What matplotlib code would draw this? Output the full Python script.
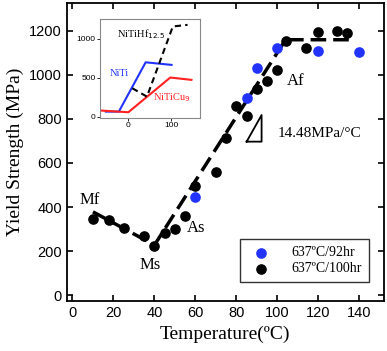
import matplotlib
matplotlib.use("Agg")
import matplotlib.pyplot as plt

# main data
black_T = [10, 18, 25, 35, 40, 45, 50, 55, 60, 70, 75, 80, 85, 90, 95, 100, 104, 114, 120, 129, 134]
black_Y = [345, 340, 305, 268, 223, 282, 300, 360, 495, 557, 713, 860, 813, 938, 973, 1023, 1152, 1121, 1194, 1201, 1192]
blue_T = [60, 85, 90, 100, 120, 140]
blue_Y = [445, 897, 1030, 1121, 1110, 1103]

# dashed guide line (Mf -> Ms -> Af -> plateau)
fit_T = [10, 40, 104, 135]
fit_Y = [378, 227, 1160, 1160]

# inset data
niti_T = [-51, -21, 41, 101]
niti_Y = [68, 68, 700, 667]
nitic_T = [-61, 1, 98, 147]
nitic_Y = [81, 60, 505, 475]
hf_T = [10, 44, 104, 138]
hf_Y = [368, 260, 1160, 1180]

serif = ["Liberation Serif", "DejaVu Serif"]
sans = ["Liberation Sans", "DejaVu Sans"]

fig = plt.figure(figsize=(3.87, 3.51), dpi=100)
ax = fig.add_axes([0.173, 0.1425, 0.819, 0.849])

ax.plot(fit_T, fit_Y, color="black", lw=2.5, ls=(0, (4.5, 2)), zorder=2)
ax.scatter(blue_T, blue_Y, s=44, color="#2233ff", zorder=3, label="637\u00baC/92hr")
ax.scatter(black_T, black_Y, s=44, color="black", zorder=3, label="637\u00baC/100hr")

ax.set_xlim(-2.7, 152)
ax.set_ylim(-27, 1327)
ax.set_xticks(range(0, 141, 20))
ax.set_yticks(range(0, 1201, 200))
ax.tick_params(direction="in", top=True, right=True, length=4, width=1.2, labelsize=10.5)
for lab in ax.get_xticklabels() + ax.get_yticklabels():
    lab.set_family(sans)
for sp in ax.spines.values():
    sp.set_linewidth(1.3)

ax.set_xlabel("Temperature(\u00baC)", family=serif, fontsize=14, labelpad=4)
ax.set_ylabel("Yield Strength (MPa)", family=serif, fontsize=14, labelpad=4)

ax.text(8.5, 432, "Mf", family=serif, fontsize=12, ha="center", va="center")
ax.text(38, 136, "Ms", family=serif, fontsize=12, ha="center", va="center")
ax.text(60.5, 305, "As", family=serif, fontsize=12, ha="center", va="center")
ax.text(109, 973, "Af", family=serif, fontsize=12, ha="center", va="center")
ax.text(100, 732, "14.48MPa/\u00b0C", family=serif, fontsize=11, ha="left", va="center")
ax.plot([85, 92.3, 92.3, 85], [697, 697, 818, 697], color="black", lw=1.3)

leg = ax.legend(loc="lower right", bbox_to_anchor=(0.975, 0.04), prop={"family": serif, "size": 10},
                frameon=True, fancybox=False, edgecolor="black", handletextpad=1.2,
                borderpad=0.5, labelspacing=0.2, markerscale=1.0)
leg.get_frame().set_linewidth(1.0)

# inset
ins = fig.add_axes([0.258, 0.664, 0.259, 0.282])
ins.plot(niti_T, niti_Y, color="#2233ff", lw=1.5)
ins.plot(nitic_T, nitic_Y, color="#ff2020", lw=1.5)
ins.plot(hf_T, hf_Y, color="black", lw=1.5, ls=(0, (3, 2)))
ins.set_xlim(-65, 167)
ins.set_ylim(-13, 1256)
ins.set_xticks([0, 100])
ins.set_yticks([0, 500, 1000])
ins.tick_params(length=2, width=0.6, labelsize=6, pad=1, colors="black")
for lab in ins.get_xticklabels() + ins.get_yticklabels():
    lab.set_family(sans)
for sp in ins.spines.values():
    sp.set_color("#888888")
    sp.set_linewidth(0.8)
ins.text(-26, 1060, "NiTiHf$_{12.5}$", family=serif, fontsize=7.5, ha="left", va="center")
ins.text(-43, 560, "NiTi", family=serif, fontsize=7.5, color="#2233ff", ha="left", va="center")
ins.text(58, 250, "NiTiCu$_9$", family=serif, fontsize=7.5, color="#ff2020", ha="left", va="center")

fig.savefig("out.png", dpi=100)
